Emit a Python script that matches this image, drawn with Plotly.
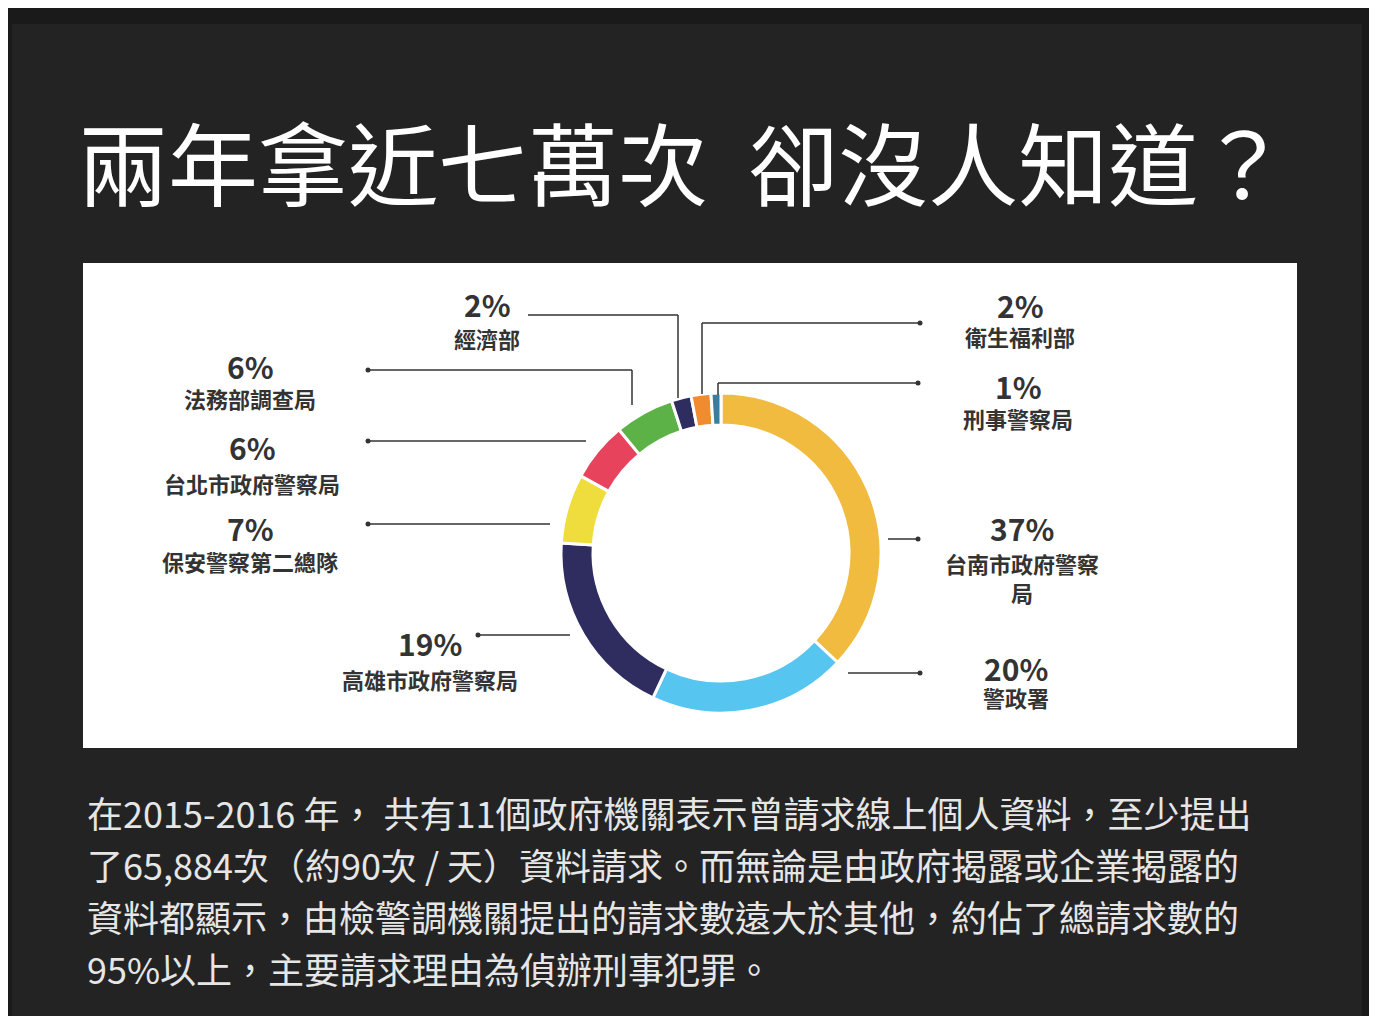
import plotly.graph_objects as go

W, H = 1377, 1016
OFF = 8  # page margin of the browser


def px(x):
    return (x - OFF) / W


def py(y):
    return 1 - (y - OFF) / H


agencies = ["台南市政府警察局", "警政署", "高雄市政府警察局", "保安警察第二總隊",
            "台北市政府警察局", "法務部調查局", "經濟部", "衛生福利部", "刑事警察局"]
shares = [37, 20, 19, 7, 6, 6, 2, 2, 1]
colors = ["#F0BB3E", "#56C5F0", "#2F2D5F", "#EEDD3C", "#E8435C", "#5DB247",
          "#2F2D5F", "#F08B2F", "#3C7C9E"]

body_lines = [
    "在2015-2016 年， 共有11個政府機關表示曾請求線上個人資料，至少提出",
    "了65,884次（約90次 / 天）資料請求。而無論是由政府揭露或企業揭露的",
    "資料都顯示，由檢警調機關提出的請求數遠大於其他，約佔了總請求數的",
    "95%以上，主要請求理由為偵辦刑事犯罪。",
]

fig = go.Figure()
fig.add_trace(go.Pie(
    labels=agencies, values=shares, sort=False, direction="clockwise", rotation=0,
    hole=0.8, textinfo="none", hoverinfo="label+percent",
    marker=dict(colors=colors, line=dict(color="white", width=3)),
    domain=dict(x=[px(561), px(881)], y=[py(713), py(393)]),
    showlegend=False,
))

shapes = [
    dict(type="rect", xref="paper", yref="paper", x0=px(12), x1=px(1362), y0=py(1030), y1=py(24),
         fillcolor="#232323", line_width=0, layer="below"),
    dict(type="rect", xref="paper", yref="paper", x0=px(83), x1=px(1297), y0=py(748), y1=py(263),
         fillcolor="white", line_width=0, layer="below"),
]

# leader lines: list of points, dot at first point
leaders = [
    [(528, 315), (678, 315), (678, 398)],
    [(368, 370), (632, 370), (632, 405)],
    [(368, 441), (586, 441)],
    [(368, 524), (550, 524)],
    [(478, 635), (570, 635)],
    [(920, 673), (848, 673)],
    [(918, 539), (888, 539)],
    [(918, 383), (718, 383), (718, 395)],
    [(920, 323), (702, 323), (702, 394)],
]
for i, pts in enumerate(leaders):
    for (x0, y0), (x1, y1) in zip(pts[:-1], pts[1:]):
        shapes.append(dict(type="line", xref="paper", yref="paper", x0=px(x0), y0=py(y0),
                           x1=px(x1), y1=py(y1), line=dict(color="#333", width=1.5)))
    if i > 0:
        x, y = pts[0]
        shapes.append(dict(type="circle", xref="paper", yref="paper", x0=px(x - 2.5), x1=px(x + 2.5),
                           y0=py(y + 2.5), y1=py(y - 2.5), fillcolor="#333", line_width=0))

fnt = "Noto Sans CJK TC"
ann = [dict(text="兩年拿近七萬次  卻沒人知道？", x=px(683), y=py(160), xref="paper", yref="paper",
            xanchor="center", yanchor="middle", showarrow=False,
            font=dict(family=fnt, size=90, color="white"))]

# (x center, y of percent, y of name)
label_pos = [
    (1022, 528, 577), (1016, 668, 697), (430, 643, 679), (250, 528, 561), (252, 447, 483),
    (250, 366, 398), (487, 304, 338), (1020, 305, 336), (1018, 386, 418),
]
label_text = {0: "台南市政府警察<br>局"}
for i, (x, y, y2) in enumerate(label_pos):
    name = label_text.get(i, agencies[i])
    ann.append(dict(text=f"<b>{shares[i]}%</b>", x=px(x), y=py(y), xref="paper", yref="paper",
                    xanchor="center", yanchor="middle", showarrow=False,
                    font=dict(family=fnt, size=30, color="#333")))
    ann.append(dict(text=f"<b>{name}</b>", x=px(x), y=py(y2), xref="paper", yref="paper",
                    xanchor="center", yanchor="middle", showarrow=False,
                    font=dict(family=fnt, size=22, color="#333")))

for k, line in enumerate(body_lines):
    ann.append(dict(text=line, x=px(85), y=py(812 + 52 * k), xref="paper", yref="paper",
                    xanchor="left", yanchor="middle", showarrow=False,
                    font=dict(family=fnt, size=36, color="#e6e6e6")))

fig.update_layout(width=W, height=H, margin=dict(l=0, r=0, t=0, b=0),
                  paper_bgcolor="#1a1a1a", plot_bgcolor="#1a1a1a",
                  shapes=shapes, annotations=ann)
fig.write_html("out.html")
